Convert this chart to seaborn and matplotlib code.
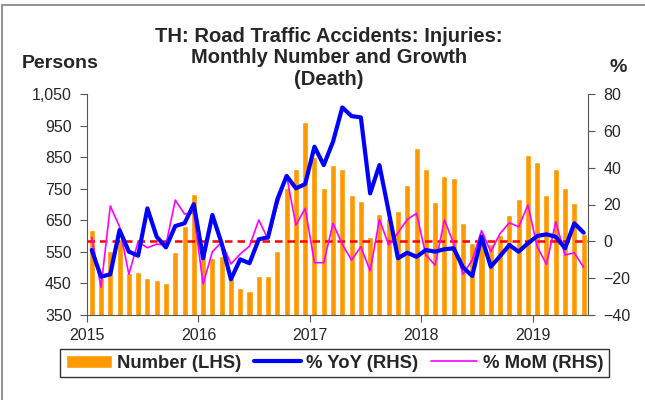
import matplotlib
matplotlib.use("Agg")
import matplotlib.pyplot as plt
from matplotlib.patches import Rectangle
from matplotlib.ticker import FuncFormatter
import numpy as np
import pandas as pd
import seaborn as sns

# 월별 데이터 (2015-01 ~ 2019-06), 그림에서 읽은 값
years = ["2015", "2016", "2017", "2018", "2019"]
number = [620, 468, 553, 590, 483, 486, 468, 461, 450, 550, 633, 733,
          562, 532, 536, 468, 436, 425, 473, 473, 554, 751, 814, 962,
          851, 751, 825, 811, 731, 711, 598, 670, 656, 679, 762, 880,
          811, 707, 790, 783, 642, 577, 610, 576, 603, 666, 717, 857,
          836, 730, 811, 751, 704, 607]
yoy = [-4.7, -19.2, -17.9, 6.1, -5.6, -7.8, 17.9, 2.5, -3.3, 8.3, 9.8, 20.2,
       -9.2, 14.3, -1.1, -20.6, -9.8, -11.9, 1.1, 2.2, 22.8, 35.5, 28.8, 31.1,
       51.4, 41.4, 54.1, 72.7, 68.0, 67.3, 26.0, 41.4, 16.1, -9.2, -6.2, -8.4,
       -4.7, -5.6, -4.3, -3.8, -14.1, -18.8, 2.5, -13.8, -8.0, -2.0, -5.6, -1.1,
       2.9, 3.8, 2.5, -3.8, 9.8, 4.7]
mom = [2.2, -25.0, 19.2, 7.9, -17.9, -0.2, -3.5, -1.5, -2.0, 22.4, 14.8, 15.5,
       -23.2, -5.6, -0.5, -12.3, -6.9, -2.6, 11.6, 1.1, 19.7, 35.5, 8.8, 17.9,
       -11.6, -11.6, 9.8, -1.7, -10.2, -2.9, -16.1, 11.9, -2.0, 4.7, 11.9, 15.2,
       -7.4, -12.9, 11.6, -1.1, -17.8, -10.2, 5.8, -5.6, 4.3, 10.1, 7.9, 19.7,
       -2.9, -12.5, 10.6, -7.4, -6.2, -14.1]

months = pd.period_range("2015-01", periods=len(number), freq="M").strftime("%Y-%m")
df = pd.DataFrame({"month": months, "number": number, "yoy": yoy, "mom": mom})
df["pos"] = np.arange(len(df))

sns.set_style("white")
plt.rcParams["font.family"] = ["Liberation Sans", "DejaVu Sans"]

fig = plt.figure(figsize=(6.45, 4.0), dpi=100)
ax = fig.add_axes([0.135, 0.2125, 0.777, 0.5525])

sns.barplot(data=df, x="month", y="number", color="#FF9900", saturation=1,
            width=0.65, ax=ax)
ax.set_ylim(350, 1050)
ax.set_yticks(range(350, 1051, 100))
ax.yaxis.set_major_formatter(FuncFormatter(lambda v, p: f"{v:,.0f}"))
ax.set_xlim(-0.5, len(df) - 0.5)
ax.set_xticks([i * 12 - 0.5 for i in range(len(years))])
ax.set_xticklabels(years)
ax.set_xlabel("")
ax.set_ylabel("")

ax2 = ax.twinx()
ax2.axhline(0, color="#FF0000", ls="--", lw=1.8, dashes=(3, 2), zorder=1)
sns.lineplot(data=df, x="pos", y="yoy", color="#0000FF", lw=3.0, ax=ax2,
             legend=False, zorder=3)
sns.lineplot(data=df, x="pos", y="mom", color="#FF00FF", lw=1.2, ax=ax2,
             legend=False, zorder=2)
ax2.set_ylim(-40, 80)
ax2.set_yticks(range(-40, 81, 20))
ax2.set_xlabel("")
ax2.set_ylabel("")
ax2.set_xlim(-0.5, len(df) - 0.5)

spine_col = "#555555"
for a in (ax, ax2):
    a.spines["top"].set_visible(False)
    for s in a.spines.values():
        s.set_color(spine_col)
ax.spines["right"].set_visible(False)
ax2.spines["left"].set_visible(False)
ax2.spines["bottom"].set_visible(False)

ax.tick_params(axis="y", direction="out", length=5, color=spine_col,
               labelsize=11.5, left=True, pad=6)
ax.tick_params(axis="x", direction="out", length=5, color=spine_col,
               labelsize=11.5, bottom=True, pad=4)
ax2.tick_params(axis="y", direction="out", length=5, color=spine_col,
                labelsize=11.5, right=True, pad=6)

fig.text(0.51, 0.932, "TH: Road Traffic Accidents: Injuries:\nMonthly Number and Growth\n(Death)",
         ha="center", va="top", fontsize=14.5, weight="bold", linespacing=1.15)
fig.text(22 / 645, 1 - 64 / 400, "Persons", va="center", ha="left",
         fontsize=14, weight="bold")
fig.text(610 / 645, 1 - 68 / 400, "%", va="center", ha="left",
         fontsize=14, weight="bold")

handles = [ax.containers[0], ax2.lines[1], ax2.lines[2]]
labels = ["Number (LHS)", "% YoY (RHS)", "% MoM (RHS)"]
leg = fig.legend(handles, labels, loc="upper left",
                 bbox_to_anchor=(60 / 645, 1 - 349 / 400), ncol=3,
                 frameon=True, fancybox=False, edgecolor="black",
                 prop=dict(weight="bold", size=13.3), handlelength=2.5,
                 columnspacing=0.7, handletextpad=0.3, borderpad=0.3,
                 borderaxespad=0)
leg.get_frame().set_linewidth(1.0)

fig.add_artist(Rectangle((0.003, -0.05), 1.2, 1.0375, transform=fig.transFigure,
                         fill=False, edgecolor="#808080", lw=1.2))

fig.savefig("out.png", dpi=100)
